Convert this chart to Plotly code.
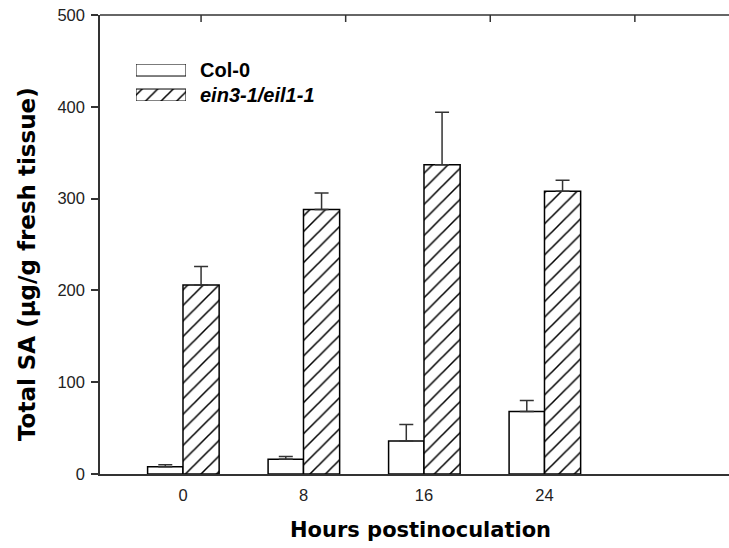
import plotly.graph_objects as go

hours = [0, 8, 16, 24]
tick_labels = ["0", "8", "16", "24"]
series_names = ["Col-0", "ein3-1/eil1-1"]
col0_vals = [8, 16, 36, 68]
col0_err = [2, 3, 18, 12]
ein3_vals = [206, 288, 337, 308]
ein3_err = [20, 18, 57, 12]
y_ticks = [0, 100, 200, 300, 400, 500]
top_ticks = [1.2, 10.8, 20.4, 30.0]
x_title = "Hours postinoculation"
y_title = "Total SA (µg/g fresh tissue)"

FONT = "Liberation Sans, Arial, sans-serif"
TFONT = "DejaVu Sans, Liberation Sans, Arial, sans-serif"
AX = "#333333"
PLOT_H = 548 - 15 - 74
YMAX = 500
TICK_DATA = 7 * YMAX / PLOT_H

fig = go.Figure()

fig.add_trace(go.Bar(
    x=hours, y=col0_vals, width=2.35, offset=-2.35,
    marker=dict(color="white", line=dict(color="black", width=1.5)),
    error_y=dict(type="data", array=col0_err, arrayminus=[0]*4, symmetric=False,
                 color=AX, thickness=1.5, width=7),
    name=series_names[0], showlegend=False,
))
fig.add_trace(go.Bar(
    x=hours, y=ein3_vals, width=2.4, offset=0,
    marker=dict(color="white", line=dict(color="black", width=1.5),
                pattern=dict(shape="/", fgcolor="black", bgcolor="white", fgopacity=1,
                             size=11, solidity=0.14)),
    error_y=dict(type="data", array=ein3_err, arrayminus=[0]*4, symmetric=False,
                 color=AX, thickness=1.5, width=7),
    name=series_names[1], showlegend=False,
))

# top border tick marks (inside), drawn as short line segments
tx, ty = [], []
for t in top_ticks:
    tx += [t, t, None]
    ty += [YMAX, YMAX - TICK_DATA, None]
fig.add_trace(go.Scatter(x=tx, y=ty, mode="lines", line=dict(color=AX, width=1.5),
                         showlegend=False, hoverinfo="skip", cliponaxis=False))

# legend swatches (long rectangles like the original)
fig.add_trace(go.Bar(
    x=[1, 1], y=[1, 0], orientation="h", width=0.48, base=0,
    xaxis="x3", yaxis="y3",
    marker=dict(color="white", line=dict(color="black", width=1),
                pattern=dict(shape=["", "/"], fgcolor="black", bgcolor="white", fgopacity=1,
                             size=11, solidity=0.14)),
    showlegend=False, hoverinfo="skip",
))

shapes = [dict(type="line", xref="paper", yref="paper", x0=0, x1=1, y0=1, y1=1,
               line=dict(color=AX, width=1.5), layer="above")]

xr = [-5.51, 36.25]
fig.update_layout(
    width=729, height=548,
    margin=dict(l=100, r=0, t=15, b=74, autoexpand=False),
    paper_bgcolor="white", plot_bgcolor="white",
    barmode="overlay",
    font=dict(family=FONT, color="black"),
    xaxis=dict(range=xr, tickvals=hours, ticktext=tick_labels, ticks="", automargin=False,
               showline=True, mirror=False, linecolor=AX, linewidth=1.5, showgrid=False, zeroline=False,
               tickfont=dict(size=16.5, color="#222"), ticklabelstandoff=5, ticklabeloverflow="allow"),
    yaxis=dict(range=[0, YMAX], tickvals=y_ticks, ticks="outside",
               ticklen=7, tickwidth=1.5, tickcolor=AX, automargin=False, mirror=False,
               showline=True, linecolor=AX, linewidth=1.5, showgrid=False, zeroline=False,
               tickfont=dict(size=16.5, color="#222"), ticklabelstandoff=3, ticklabeloverflow="allow"),
    xaxis3=dict(domain=[0.0572, 0.1367], range=[0, 1], visible=False, fixedrange=True, anchor="y3"),
    yaxis3=dict(domain=[0.8126, 0.8932], range=[-0.24, 1.24], visible=False, anchor="x3", fixedrange=True),
    shapes=shapes,
    annotations=[
        dict(text="<b>" + series_names[0] + "</b>", x=0.1558, y=0.880, xref="paper", yref="paper",
             xanchor="left", yanchor="middle", showarrow=False, font=dict(size=20)),
        dict(text="<b><i>" + series_names[1] + "</i></b>", x=0.1558, y=0.8257, xref="paper", yref="paper",
             xanchor="left", yanchor="middle", showarrow=False, font=dict(size=20)),
        dict(text="<b>" + x_title + "</b>", x=0.5103, y=-0.122, xref="paper", yref="paper",
             xanchor="center", yanchor="middle", showarrow=False, font=dict(size=21, family=TFONT)),
        dict(text="<b>" + y_title + "</b>", x=-0.116, y=0.4575, xref="paper", yref="paper",
             xanchor="center", yanchor="middle", showarrow=False, textangle=-90,
             font=dict(size=23, family=TFONT)),
    ],
)

fig.write_html(
    "out.html",
    config={"displayModeBar": False},
    post_script="document.body.style.margin='0';document.body.style.overflow='hidden';"
                "document.documentElement.style.overflow='hidden';",
)
